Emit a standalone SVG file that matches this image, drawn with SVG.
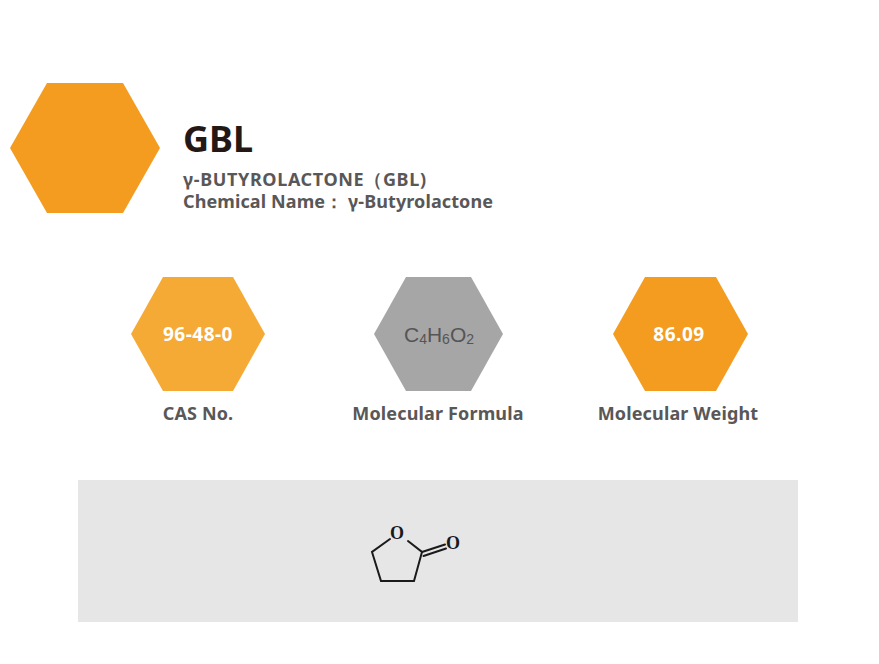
<svg xmlns="http://www.w3.org/2000/svg" width="879" height="664" viewBox="0 0 879 664">
<style>
.t{font-family:"Noto Sans","Open Sans","Liberation Sans",sans-serif;font-weight:bold}
.sub{fill:#595757;font-size:18px}
.lab{fill:#595757;font-size:18px;text-anchor:middle;letter-spacing:0.15px}
.val{fill:#ffffff;font-size:19px;text-anchor:middle;letter-spacing:0.5px}
.bond{stroke:#1a1a1a;stroke-width:2;fill:none;stroke-linecap:round}
.atom{font-family:"Liberation Serif","DejaVu Serif",serif;font-weight:bold;font-size:18px;fill:#1a1a1a;text-anchor:middle}
</style>
<rect width="879" height="664" fill="#ffffff"/>
<g id="header">
<polygon points="10,148 47,83 123,83 160,148 123,213 47,213" fill="#F39C1F"/>
<text class="t" x="183" y="152" font-size="36" fill="#231815">GBL</text>
<text class="t sub" x="183" y="186" textLength="243" lengthAdjust="spacing">γ-BUTYROLACTONE（GBL)</text>
<text class="t sub" x="183" y="208" textLength="310" lengthAdjust="spacing">Chemical Name：  γ-Butyrolactone</text>
</g>
<g id="cas">
<polygon points="131,334 163,277 233,277 265,334 233,391 163,391" fill="#F4AA35"/>
<text class="t val" x="198" y="341">96-48-0</text>
<text class="t lab" x="198" y="420">CAS No.</text>
</g>
<g id="formula">
<polygon points="374,334 406,277 471,277 503,334 471,391 406,391" fill="#A6A6A6"/>
<text x="439" y="342" text-anchor="middle" font-family="Liberation Sans,Arial,sans-serif" font-size="21" fill="#555555">C<tspan font-size="14" dy="2">4</tspan><tspan dy="-2">H</tspan><tspan font-size="14" dy="2">6</tspan><tspan dy="-2">O</tspan><tspan font-size="14" dy="2">2</tspan></text>
<text class="t lab" x="438" y="420">Molecular Formula</text>
</g>
<g id="weight">
<polygon points="613,334 645,277 716,277 748,334 716,391 645,391" fill="#F39C1F"/>
<text class="t val" x="679" y="341">86.09</text>
<text class="t lab" x="678" y="420">Molecular Weight</text>
</g>
<g id="structure">
<rect x="78" y="480" width="720" height="142" fill="#E6E6E6"/>
<path class="bond" d="M390,539 L372,552 L381,581 L414,581 L422,552 L408,541"/>
<path class="bond" d="M422,552 L445,544.5 M423.5,556 L446,548.5"/>
<text class="atom" x="397" y="539">O</text>
<text class="atom" x="453" y="549">O</text>
</g>
</svg>
